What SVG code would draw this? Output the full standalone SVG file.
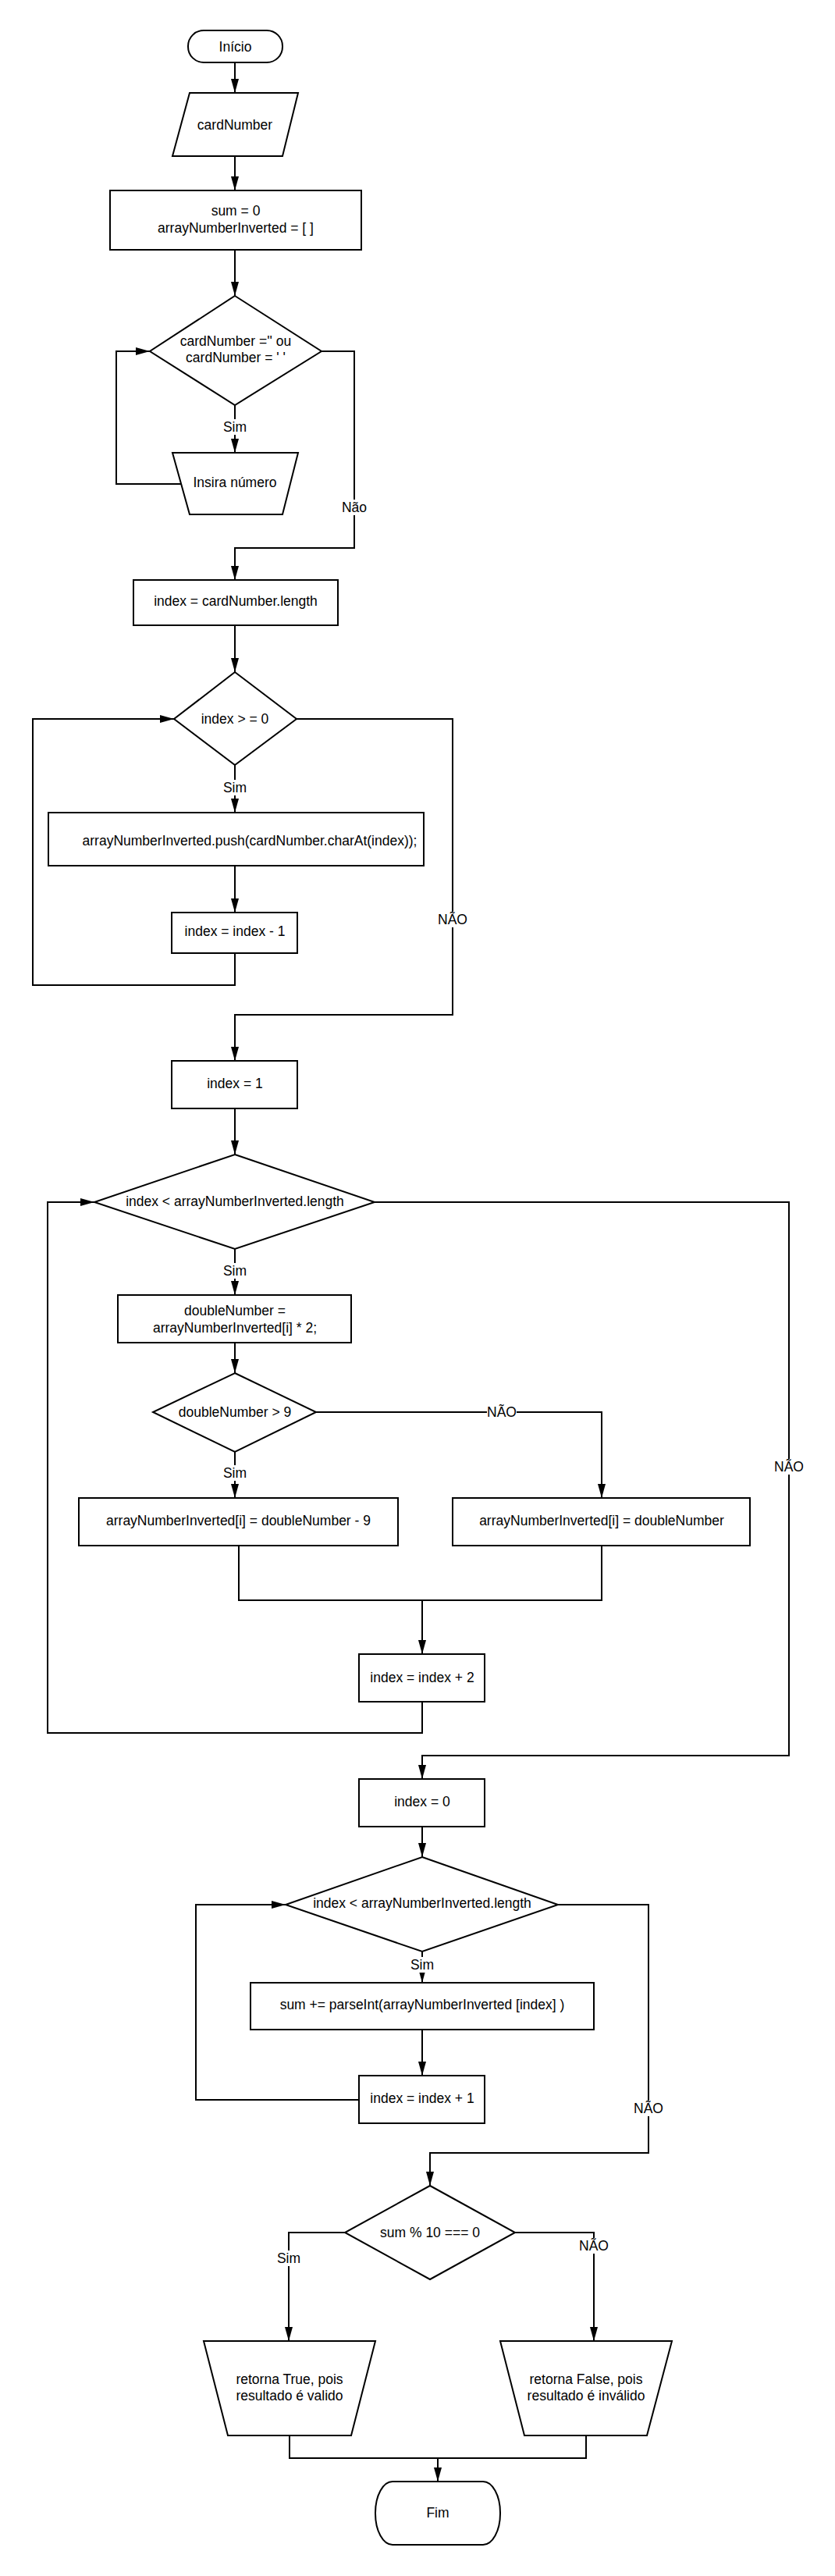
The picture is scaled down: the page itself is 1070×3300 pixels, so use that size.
<svg xmlns="http://www.w3.org/2000/svg" width="1070" height="3300" viewBox="0 0 1070 3300">
<defs>
<style>
.n{fill:#fff;stroke:#000;stroke-width:2}
.t{font-family:"Liberation Sans",Arial,sans-serif;font-size:17.5px;fill:#000;text-anchor:middle;dominant-baseline:central}
.c{fill:none;stroke:#000;stroke-width:2}
.lb{fill:#fff;stroke:none}
</style>
<marker id="ah" markerUnits="userSpaceOnUse" markerWidth="18" markerHeight="10" refX="18" refY="5" orient="auto">
<path d="M0,0 L18,5 L0,10 z" fill="#000"/>
</marker>
</defs>
<rect width="1070" height="3300" fill="#fff"/>
<g id="connectors">
<path class="c" d="M301,80 L301,119" marker-end="url(#ah)"/>
<path class="c" d="M301,200 L301,244" marker-end="url(#ah)"/>
<path class="c" d="M301,320 L301,379" marker-end="url(#ah)"/>
<path class="c" d="M301,519 L301,580" marker-end="url(#ah)"/>
<path class="c" d="M232,620 L149,620 L149,450 L192,450" marker-end="url(#ah)"/>
<path class="c" d="M412,450 L454,450 L454,702 L301,702 L301,743" marker-end="url(#ah)"/>
<path class="c" d="M301,801 L301,861" marker-end="url(#ah)"/>
<path class="c" d="M301,980 L301,1041" marker-end="url(#ah)"/>
<path class="c" d="M301,1109 L301,1169" marker-end="url(#ah)"/>
<path class="c" d="M301,1221 L301,1262 L42,1262 L42,921 L223,921" marker-end="url(#ah)"/>
<path class="c" d="M380,921 L580,921 L580,1300 L301,1300 L301,1359" marker-end="url(#ah)"/>
<path class="c" d="M301,1420 L301,1479" marker-end="url(#ah)"/>
<path class="c" d="M301,1600 L301,1659" marker-end="url(#ah)"/>
<path class="c" d="M301,1720 L301,1759" marker-end="url(#ah)"/>
<path class="c" d="M301,1860 L301,1919" marker-end="url(#ah)"/>
<path class="c" d="M405,1809 L771,1809 L771,1919" marker-end="url(#ah)"/>
<path class="c" d="M306,1980 L306,2050 L771,2050 L771,1980"/>
<path class="c" d="M541,2050 L541,2119" marker-end="url(#ah)"/>
<path class="c" d="M541,2180 L541,2220 L61,2220 L61,1540 L121,1540" marker-end="url(#ah)"/>
<path class="c" d="M480,1540 L1011,1540 L1011,2249 L541,2249 L541,2279" marker-end="url(#ah)"/>
<path class="c" d="M541,2340 L541,2379" marker-end="url(#ah)"/>
<path class="c" d="M541,2500 L541,2540" marker-end="url(#ah)"/>
<path class="c" d="M541,2600 L541,2659" marker-end="url(#ah)"/>
<path class="c" d="M460,2690 L251,2690 L251,2440 L366,2440" marker-end="url(#ah)"/>
<path class="c" d="M715,2440 L831,2440 L831,2758 L551,2758 L551,2800" marker-end="url(#ah)"/>
<path class="c" d="M442,2860 L370,2860 L370,2999" marker-end="url(#ah)"/>
<path class="c" d="M660,2860 L761,2860 L761,2999" marker-end="url(#ah)"/>
<path class="c" d="M371,3120 L371,3149 L751,3149 L751,3120"/>
<path class="c" d="M561,3149 L561,3179" marker-end="url(#ah)"/>
<rect class="lb" x="284" y="537" width="34" height="20"/><text class="t" x="301" y="547">Sim</text>
<rect class="lb" x="436" y="640" width="36" height="20"/><text class="t" x="454" y="650">Não</text>
<rect class="lb" x="284" y="999" width="34" height="20"/><text class="t" x="301" y="1009">Sim</text>
<rect class="lb" x="561" y="1168" width="38" height="20"/><text class="t" x="580" y="1178">NÃO</text>
<rect class="lb" x="284" y="1618" width="34" height="20"/><text class="t" x="301" y="1628">Sim</text>
<rect class="lb" x="284" y="1877" width="34" height="20"/><text class="t" x="301" y="1887">Sim</text>
<rect class="lb" x="624" y="1799" width="38" height="20"/><text class="t" x="643" y="1809">NÃO</text>
<rect class="lb" x="992" y="1869" width="38" height="20"/><text class="t" x="1011" y="1879">NÃO</text>
<rect class="lb" x="524" y="2507" width="34" height="20"/><text class="t" x="541" y="2517">Sim</text>
<rect class="lb" x="812" y="2691" width="38" height="20"/><text class="t" x="831" y="2701">NÃO</text>
<rect class="lb" x="353" y="2883" width="34" height="20"/><text class="t" x="370" y="2893">Sim</text>
<rect class="lb" x="742" y="2867" width="38" height="20"/><text class="t" x="761" y="2877">NÃO</text>
</g>
<g id="inicio"><rect class="n" x="241" y="39" width="121" height="41" rx="20" ry="20"/><text class="t" x="301.5" y="59.5">Início</text></g>
<g id="cardNumber"><polygon class="n" points="243,119 382,119 362,200 221,200"/><text class="t" x="301" y="160">cardNumber</text></g>
<g id="init"><rect class="n" x="141" y="244" width="322" height="76"/><text class="t" x="302" y="270">sum = 0</text><text class="t" x="302" y="292">arrayNumberInverted = [ ]</text></g>
<g id="checkEmpty"><polygon class="n" points="301,379 412,450 301,519 192,450"/><text class="t" x="302" y="437">cardNumber ='' ou</text><text class="t" x="302" y="458">cardNumber = ' '</text></g>
<g id="insira"><polygon class="n" points="221,580 382,580 362,659 243,659"/><text class="t" x="301" y="618">Insira número</text></g>
<g id="indexLen"><rect class="n" x="171" y="743" width="262" height="58"/><text class="t" x="302" y="770">index = cardNumber.length</text></g>
<g id="indexGe0"><polygon class="n" points="301,861 380,921 301,980 223,921"/><text class="t" x="301" y="921">index &gt; = 0</text></g>
<g id="push"><rect class="n" x="62" y="1041" width="481" height="68"/><text class="t" x="320" y="1077">arrayNumberInverted.push(cardNumber.charAt(index));</text></g>
<g id="indexMinus1"><rect class="n" x="220" y="1169" width="161" height="52"/><text class="t" x="301" y="1193">index = index - 1</text></g>
<g id="index1"><rect class="n" x="220" y="1359" width="161" height="61"/><text class="t" x="301" y="1388">index = 1</text></g>
<g id="loop1"><polygon class="n" points="301,1479 480,1540 301,1600 121,1540"/><text class="t" x="301" y="1539">index &lt; arrayNumberInverted.length</text></g>
<g id="doubleNumber"><rect class="n" x="151" y="1659" width="299" height="61"/><text class="t" x="301" y="1679">doubleNumber =</text><text class="t" x="301" y="1701">arrayNumberInverted[i] * 2;</text></g>
<g id="gt9"><polygon class="n" points="301,1759 405,1809 301,1860 196,1809"/><text class="t" x="301" y="1809">doubleNumber &gt; 9</text></g>
<g id="minus9"><rect class="n" x="101" y="1919" width="409" height="61"/><text class="t" x="305.5" y="1948">arrayNumberInverted[i] = doubleNumber - 9</text></g>
<g id="assignDouble"><rect class="n" x="580" y="1919" width="381" height="61"/><text class="t" x="771" y="1948">arrayNumberInverted[i] = doubleNumber</text></g>
<g id="indexPlus2"><rect class="n" x="460" y="2119" width="161" height="61"/><text class="t" x="541" y="2149">index = index + 2</text></g>
<g id="index0"><rect class="n" x="460" y="2279" width="161" height="61"/><text class="t" x="541" y="2308">index = 0</text></g>
<g id="loop2"><polygon class="n" points="541,2379 715,2440 541,2500 366,2440"/><text class="t" x="541" y="2438">index &lt; arrayNumberInverted.length</text></g>
<g id="sumAdd"><rect class="n" x="321" y="2540" width="440" height="60"/><text class="t" x="541" y="2568">sum += parseInt(arrayNumberInverted [index] )</text></g>
<g id="indexPlus1"><rect class="n" x="460" y="2659" width="161" height="61"/><text class="t" x="541" y="2688">index = index + 1</text></g>
<g id="mod10"><polygon class="n" points="551,2800 660,2860 551,2920 442,2860"/><text class="t" x="551" y="2860">sum % 10 === 0</text></g>
<g id="retTrue"><polygon class="n" points="261,2999 481,2999 450,3120 292,3120"/><text class="t" x="371" y="3048">retorna True, pois</text><text class="t" x="371" y="3069">resultado é valido</text></g>
<g id="retFalse"><polygon class="n" points="641,2999 861,2999 829,3120 672,3120"/><text class="t" x="751" y="3048">retorna False, pois</text><text class="t" x="751" y="3069">resultado é inválido</text></g>
<g id="fim"><rect class="n" x="481" y="3179" width="160" height="81" rx="22" ry="40"/><text class="t" x="561" y="3219">Fim</text></g>
</svg>
